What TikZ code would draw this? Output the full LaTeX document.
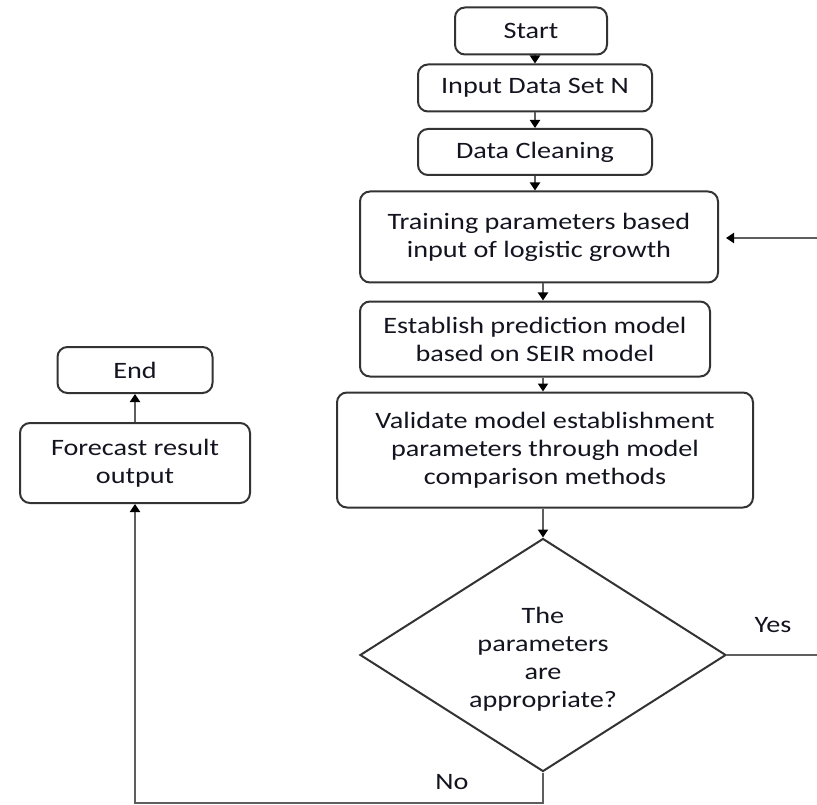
\documentclass[tikz,border=0pt]{standalone}
\usepackage{fontspec}
\setmainfont{Carlito}[FakeStretch=1.2]
\usetikzlibrary{arrows.meta,shapes.geometric}
\definecolor{boxline}{HTML}{333333}
\definecolor{conn}{HTML}{5E5E5E}
\definecolor{txt}{HTML}{141420}
\begin{document}
\begin{tikzpicture}[x=1pt,y=-1pt,
  every node/.style={font=\fontsize{23.5}{28}\selectfont, text=txt},
  procbox/.style={draw=boxline, line width=2pt, rounded corners=10pt, align=center, inner sep=0pt},
  decbox/.style={draw=boxline, line width=2pt, diamond, aspect=1.57, align=center, inner sep=0pt, minimum width=366pt, minimum height=233pt},
  arr/.style={draw=conn, line width=2pt, -{Triangle[width=10pt,length=8pt,color=black]}},
  plainline/.style={draw=conn, line width=2pt},
  lbl/.style={inner sep=0pt}
]
\useasboundingbox (0,0) rectangle (817,805);

\node[procbox, minimum width=152pt, minimum height=47pt] (start) at (531,31) {Start};
\node[procbox, minimum width=234pt, minimum height=47pt] (input) at (535,88) {Input Data Set N};
\node[procbox, minimum width=234pt, minimum height=46pt] (clean) at (535,152) {Data Cleaning};
\node[procbox, minimum width=358pt, minimum height=91pt] (train) at (539,237) {Training parameters based\\input of logistic growth};
\node[procbox, minimum width=350pt, minimum height=75pt] (est) at (535,339) {Establish prediction model\\based on SEIR model};
\node[procbox, minimum width=416pt, minimum height=115pt] (val) at (545,450) {Validate model establishment\\parameters through model\\comparison methods};
\node[decbox] (dec) at (543,655) {};
\node[lbl, align=center] (dectext) at (543,659) {The\\parameters\\are\\appropriate?};
\node[procbox, minimum width=230pt, minimum height=80pt] (fore) at (135,463) {Forecast result\\output};
\node[procbox, minimum width=155pt, minimum height=46pt] (endn) at (135,370) {End};

\coordinate (fb) at (817,238);
\coordinate (yesend) at (817,655);
\coordinate (nobot) at (543,803);

\node[lbl] (yes) at (773,625) {Yes};
\node[lbl] (no) at (452,782) {No};

\draw[arr] (start.south -| input) -- (input.north);
\draw[arr] (input.south) -- (clean.north);
\draw[arr] (clean.south) -- (clean.south |- train.north);
\draw[arr] (train.south -| dec) -- (est.north -| dec);
\draw[arr] (est.south -| dec) -- (val.north -| dec);
\draw[arr] (val.south -| dec) -- (dec.north);
\draw[plainline] (dec.east) -- (yesend);
\draw[arr, shorten >=7pt] (fb) -- (train.east |- fb);
\draw[arr] (dec.south) -- (nobot) -| (fore.south);
\draw[arr] (fore.north) -- (endn.south);
\end{tikzpicture}
\end{document}
